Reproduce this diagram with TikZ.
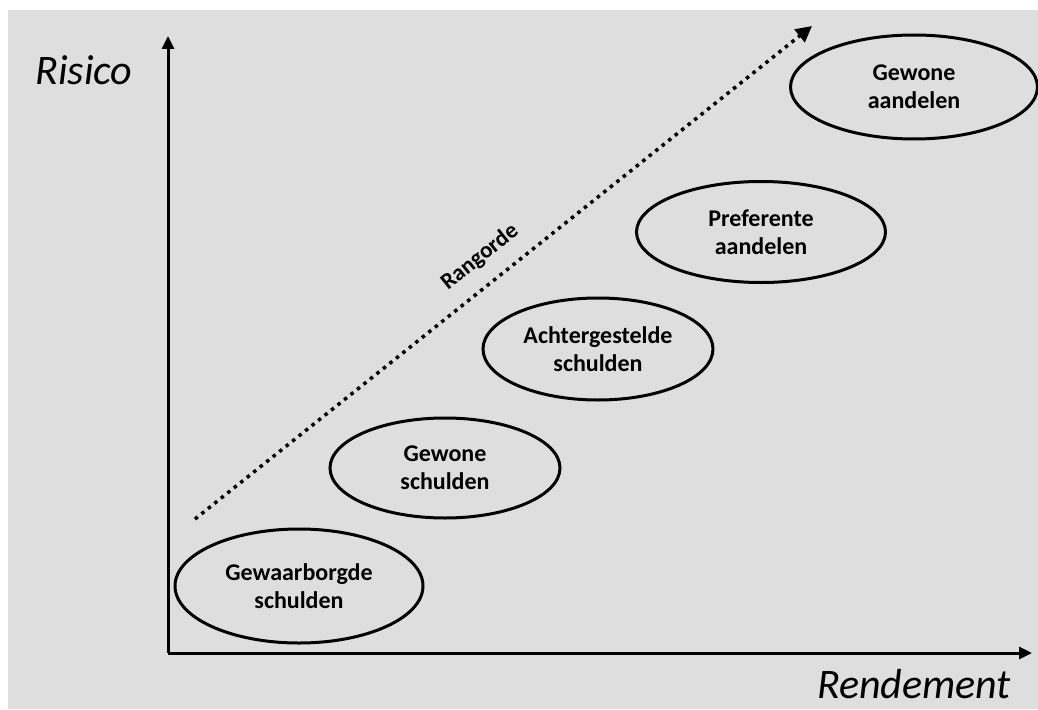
\documentclass[tikz,border=0pt]{standalone}
\usepackage{fontspec}
\setmainfont{Carlito}
\usetikzlibrary{arrows.meta,shapes.geometric}
\definecolor{bg}{HTML}{DEDEDE}
\tikzset{
  item/.style={draw=black, line width=3pt, ellipse, inner sep=0pt, align=center,
    font=\fontsize{24}{28}\selectfont\bfseries},
  axis/.style={line width=3pt, -{Triangle[length=13pt,width=12pt]}},
  axlabel/.style={font=\fontsize{42}{48}\selectfont\itshape, inner sep=0pt},
  rank/.style={line width=3.5pt, dash pattern=on 3.5pt off 4.8pt, -{Triangle[length=16pt,width=16pt]}},
}
\begin{document}
\begin{tikzpicture}[x=1pt,y=-1pt]
\useasboundingbox (0,0) rectangle (1038,709);
\fill[bg] (8,10) rectangle (1038,709);
% axes
\coordinate (o) at (168,653);
\coordinate (ytip) at (168,36);
\coordinate (xtip) at (1032,653);
\draw[axis] (o) -- (ytip);
\draw[axis] (o) -- (xtip);
\node[axlabel] (risico) at (84,70) {Risico};
\node[axlabel] (rend) at (914,684) {Rendement};
% ellipses
\node[item, minimum width=248pt, minimum height=114pt] (e1) at (299,586) {Gewaarborgde\\schulden};
\node[item, minimum width=230pt, minimum height=100pt] (e2) at (445,468) {Gewone\\schulden};
\node[item, minimum width=230pt, minimum height=102pt] (e3) at (598,349) {Achtergestelde\\schulden};
\node[item, minimum width=249pt, minimum height=101pt] (e4) at (761,232) {Preferente\\aandelen};
\node[item, minimum width=247pt, minimum height=104pt] (e5) at (914,87) {Gewone\\aandelen};
% rank arrow
\coordinate (rs) at (195,519);
\coordinate (re) at (812,26);
\draw[rank] (rs) -- (re);
\node[rotate=38.7, font=\fontsize{23}{26}\selectfont\bfseries] (rang) at (480,257) {Rangorde};
\end{tikzpicture}
\end{document}
